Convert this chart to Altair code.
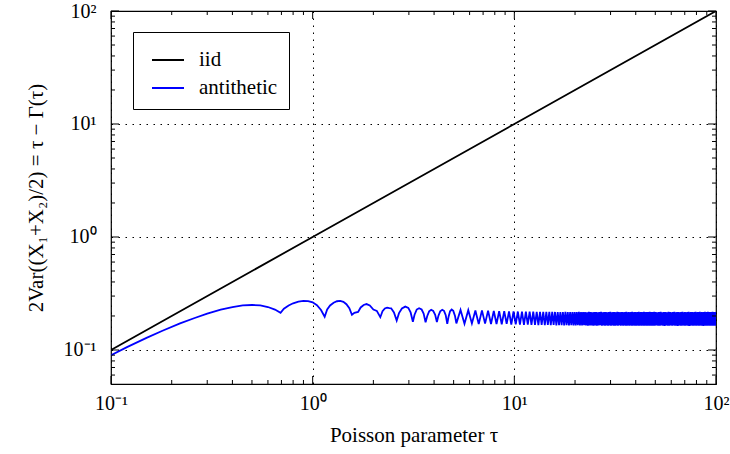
import altair as alt
import pandas as pd

W, H = 605, 373

# ---- data ----
iid_tau = [0.1, 1, 10, 100]
iid_val = [0.1, 1, 10, 100]

anti_tau_low = [0.1, 0.12, 0.15, 0.18, 0.22, 0.26, 0.3, 0.35, 0.4, 0.45, 0.5, 0.55, 0.6, 0.65, 0.693,
                0.72, 0.76, 0.8, 0.85, 0.9, 0.95, 1.0, 1.05, 1.1, 1.147,
                1.18, 1.22, 1.27, 1.32, 1.37, 1.42, 1.47, 1.52, 1.566,
                1.61, 1.68, 1.73, 1.79, 1.85, 1.92, 2.0, 2.08, 2.165,
                2.22, 2.28, 2.34, 2.4, 2.45, 2.53, 2.61,
                2.68, 2.77, 2.88, 2.98, 3.06, 3.14,
                3.2, 3.28, 3.37, 3.47, 3.55, 3.63,
                3.7, 3.78, 3.87, 3.96, 4.05, 4.13,
                4.2, 4.29, 4.39, 4.48, 4.57, 4.65,
                4.72, 4.8, 4.89, 4.98, 5.08]
anti_val_low = [0.090, 0.106, 0.128, 0.148, 0.172, 0.192, 0.210, 0.228, 0.240, 0.248, 0.250, 0.248, 0.240, 0.228, 0.213,
                0.232, 0.248, 0.259, 0.268, 0.272, 0.271, 0.264, 0.249, 0.226, 0.197,
                0.228, 0.248, 0.262, 0.270, 0.272, 0.267, 0.254, 0.234, 0.205,
                0.213, 0.217, 0.238, 0.250, 0.255, 0.248, 0.228, 0.222, 0.195,
                0.220, 0.233, 0.237, 0.235, 0.234, 0.215, 0.182,
                0.212, 0.233, 0.242, 0.236, 0.215, 0.178,
                0.205, 0.228, 0.234, 0.228, 0.210, 0.176,
                0.200, 0.220, 0.227, 0.222, 0.205, 0.177,
                0.200, 0.220, 0.227, 0.222, 0.203, 0.170,
                0.197, 0.220, 0.228, 0.222, 0.200]

dip_tau = [5.16, 5.66, 6.16, 6.66, 7.16, 7.66, 8.16, 8.66, 9.16, 9.66,
           10.16, 10.66, 11.16, 11.66, 12.16, 12.66, 13.16, 13.66, 14.16, 14.66,
           15.16, 15.66, 16.16, 16.66, 17.16, 17.66, 18.16, 18.66, 19.16, 19.66,
           20.16, 20.66, 21.16, 21.66, 22.16, 22.66, 23.16, 23.66, 24.16, 24.66,
           25.16, 25.66, 26.16, 26.66, 27.16, 27.66, 28.16, 28.66, 29.16, 29.66,
           30.16, 30.66, 31.16, 31.66, 32.16, 32.66, 33.16, 33.66, 34.16, 34.66,
           35.16, 35.66, 36.16, 36.66, 37.16, 37.66, 38.16, 38.66, 39.16, 39.66,
           40.16, 40.66, 41.16, 41.66, 42.16, 42.66, 43.16, 43.66, 44.16, 44.66,
           45.16, 45.66, 46.16, 46.66, 47.16, 47.66, 48.16, 48.66, 49.16, 49.66,
           50.66, 51.66, 52.66, 53.66, 54.66, 55.66, 56.66, 57.66, 58.66, 59.66,
           60.66, 61.66, 62.66, 63.66, 64.66, 65.66, 66.66, 67.66, 68.66, 69.66,
           70.66, 71.66, 72.66, 73.66, 74.66, 75.66, 76.66, 77.66, 78.66, 79.66,
           80.66, 81.66, 82.66, 83.66, 84.66, 85.66, 86.66, 87.66, 88.66, 89.66,
           90.66, 91.66, 92.66, 93.66, 94.66, 95.66, 96.66, 97.66, 98.66, 99.66]
dip_val = [0.172, 0.171, 0.172, 0.170, 0.171, 0.170, 0.170, 0.169, 0.170, 0.168,
           0.169, 0.168, 0.167, 0.168, 0.167, 0.167, 0.166, 0.167, 0.166, 0.167,
           0.166, 0.167, 0.165, 0.166, 0.166, 0.165, 0.166, 0.165, 0.166, 0.165,
           0.165, 0.166, 0.165, 0.165, 0.166, 0.165, 0.164, 0.165, 0.165, 0.164,
           0.165, 0.164, 0.165, 0.166, 0.164, 0.165, 0.164, 0.165, 0.164, 0.165,
           0.164, 0.165, 0.164, 0.164, 0.165, 0.164, 0.166, 0.164, 0.165, 0.164,
           0.165, 0.164, 0.164, 0.165, 0.164, 0.165, 0.164, 0.164, 0.165, 0.164,
           0.164, 0.165, 0.164, 0.164, 0.165, 0.164, 0.165, 0.164, 0.164, 0.165,
           0.164, 0.164, 0.165, 0.164, 0.165, 0.164, 0.164, 0.165, 0.164, 0.164,
           0.165, 0.164, 0.164, 0.165, 0.164, 0.163, 0.165, 0.164, 0.164, 0.165,
           0.164, 0.165, 0.164, 0.164, 0.163, 0.165, 0.164, 0.164, 0.165, 0.164,
           0.164, 0.165, 0.164, 0.163, 0.164, 0.165, 0.164, 0.164, 0.165, 0.164,
           0.165, 0.164, 0.164, 0.165, 0.164, 0.164, 0.163, 0.165, 0.164, 0.164,
           0.164, 0.165, 0.164, 0.164, 0.165, 0.164, 0.164, 0.165, 0.164, 0.164]

peak_tau = [5.41, 5.91, 6.41, 6.91, 7.41, 7.91, 8.41, 8.91, 9.41, 9.91,
            10.41, 10.91, 11.41, 11.91, 12.41, 12.91, 13.41, 13.91, 14.41, 14.91,
            15.41, 15.91, 16.41, 16.91, 17.41, 17.91, 18.41, 18.91, 19.41, 19.91,
            20.41, 20.91, 21.41, 21.91, 22.41, 22.91, 23.41, 23.91, 24.41, 24.91,
            25.41, 25.91, 26.41, 26.91, 27.41, 27.91, 28.41, 28.91, 29.41, 29.91,
            30.41, 30.91, 31.41, 31.91, 32.41, 32.91, 33.41, 33.91, 34.41, 34.91,
            35.41, 35.91, 36.41, 36.91, 37.41, 37.91, 38.41, 38.91, 39.41, 39.91,
            40.41, 40.91, 41.41, 41.91, 42.41, 42.91, 43.41, 43.91, 44.41, 44.91,
            45.41, 45.91, 46.41, 46.91, 47.41, 47.91, 48.41, 48.91, 49.41,
            50.16, 51.16, 52.16, 53.16, 54.16, 55.16, 56.16, 57.16, 58.16, 59.16,
            60.16, 61.16, 62.16, 63.16, 64.16, 65.16, 66.16, 67.16, 68.16, 69.16,
            70.16, 71.16, 72.16, 73.16, 74.16, 75.16, 76.16, 77.16, 78.16, 79.16,
            80.16, 81.16, 82.16, 83.16, 84.16, 85.16, 86.16, 87.16, 88.16, 89.16,
            90.16, 91.16, 92.16, 93.16, 94.16, 95.16, 96.16, 97.16, 98.16, 99.16]
peak_val = [0.226, 0.225, 0.224, 0.224, 0.223, 0.222, 0.221, 0.221, 0.220, 0.219,
            0.219, 0.219, 0.218, 0.218, 0.218, 0.217, 0.218, 0.217, 0.217, 0.217,
            0.218, 0.217, 0.217, 0.216, 0.217, 0.218, 0.217, 0.216, 0.217, 0.217,
            0.217, 0.218, 0.216, 0.217, 0.217, 0.216, 0.218, 0.217, 0.216, 0.217,
            0.217, 0.216, 0.217, 0.218, 0.216, 0.217, 0.217, 0.216, 0.217, 0.218,
            0.216, 0.217, 0.217, 0.216, 0.218, 0.217, 0.216, 0.217, 0.217, 0.216,
            0.217, 0.218, 0.216, 0.217, 0.216, 0.217, 0.218, 0.216, 0.217, 0.217,
            0.216, 0.217, 0.218, 0.216, 0.217, 0.217, 0.216, 0.218, 0.217, 0.216,
            0.217, 0.216, 0.217, 0.218, 0.216, 0.217, 0.216, 0.217, 0.218,
            0.217, 0.216, 0.217, 0.218, 0.216, 0.217, 0.217, 0.216, 0.218, 0.217,
            0.216, 0.217, 0.218, 0.216, 0.217, 0.217, 0.216, 0.217, 0.218, 0.216,
            0.217, 0.216, 0.217, 0.218, 0.216, 0.217, 0.217, 0.216, 0.217, 0.218,
            0.216, 0.217, 0.217, 0.218, 0.216, 0.217, 0.216, 0.217, 0.218, 0.216,
            0.217, 0.218, 0.216, 0.217, 0.217, 0.216, 0.218, 0.217, 0.216, 0.217]

end_tau = [100.0]
end_val = [0.19]

series_names = ["iid", "antithetic"]
series_colors = ["#000000", "#0000ff"]

x_domain = [0.1, 100]
y_domain = [0.05, 100]
x_major = [0.1, 1, 10, 100]
y_major = [0.1, 1, 10, 100]
major_labels = ["10⁻¹", "10⁰", "10¹", "10²"]
x_minor = [0.2, 0.3, 0.4, 0.5, 0.6, 0.7, 0.8, 0.9,
           2, 3, 4, 5, 6, 7, 8, 9,
           20, 30, 40, 50, 60, 70, 80, 90]
y_minor = [0.06, 0.07, 0.08, 0.09,
           0.2, 0.3, 0.4, 0.5, 0.6, 0.7, 0.8, 0.9,
           2, 3, 4, 5, 6, 7, 8, 9,
           20, 30, 40, 50, 60, 70, 80, 90]

x_title = "Poisson parameter τ"
y_title = "2Var((X₁+X₂)/2) = τ − Γ(τ)"

# ---- build tables ----
anti_tau = anti_tau_low + dip_tau + peak_tau + end_tau
anti_val = anti_val_low + dip_val + peak_val + end_val
df = pd.concat([
    pd.DataFrame({"tau": iid_tau, "val": iid_val, "series": "iid"}),
    pd.DataFrame({"tau": anti_tau, "val": anti_val, "series": "antithetic"}),
], ignore_index=True)


def label_expr(vals, labs):
    s = ""
    for v, l in zip(vals, labs):
        s += f"abs(datum.value - {v}) < {v / 100} ? '{l}' : "
    return s + "''"


FONT = "Liberation Serif"
xs = alt.Scale(type="log", domain=x_domain, nice=False)
ys = alt.Scale(type="log", domain=y_domain, nice=False)

common_axis = dict(grid=True, gridDash=[1.5, 5.5], gridColor="black", gridWidth=1, gridOpacity=1,
                   ticks=False, tickSize=0, domain=False, labelFont=FONT, labelFontSize=20,
                   labelColor="black", labelFlush=False, labelOverlap=False,
                   titleFont=FONT, titleFontSize=21, titleFontWeight="normal",
                   titleColor="black")
x_axis = alt.Axis(values=x_major, labelExpr=label_expr(x_major, major_labels), title=x_title,
                  labelPadding=9, titlePadding=11, **common_axis)
y_axis = alt.Axis(values=y_major, labelExpr=label_expr(y_major, major_labels), title=y_title,
                  labelPadding=15, titlePadding=17, **common_axis)

lines = alt.Chart(df).mark_line(strokeWidth=1.8, clip=True).encode(
    x=alt.X("tau:Q", scale=xs, axis=x_axis, title=x_title),
    y=alt.Y("val:Q", scale=ys, axis=y_axis, title=y_title),
    color=alt.Color("series:N", sort=series_names,
                    scale=alt.Scale(domain=series_names, range=series_colors),
                    legend=alt.Legend(title=None, orient="none", legendX=22, legendY=21,
                                      symbolType="stroke", symbolSize=1024, symbolStrokeWidth=2,
                                      labelFont=FONT, labelFontSize=21, labelColor="black",
                                      labelExpr="datum.label + '\u00a0\u00a0\u00a0'",
                                      labelOffset=14, rowPadding=1, padding=11, symbolOffset=7,
                                      strokeColor="black", fillColor="white", cornerRadius=0)),
)


def xticks(vals, length):
    d = pd.DataFrame({"tau": vals})
    base = alt.Chart(d).mark_rule(color="black", strokeWidth=1)
    xe = alt.X("tau:Q", scale=xs, axis=x_axis, title=x_title)
    bottom = base.encode(x=xe, y=alt.value(H), y2=alt.value(H - length))
    top = base.encode(x=xe, y=alt.value(0), y2=alt.value(length))
    return [bottom, top]


def yticks(vals, length):
    d = pd.DataFrame({"val": vals})
    base = alt.Chart(d).mark_rule(color="black", strokeWidth=1)
    ye = alt.Y("val:Q", scale=ys, axis=y_axis, title=y_title)
    left = base.encode(y=ye, x=alt.value(0), x2=alt.value(length))
    right = base.encode(y=ye, x=alt.value(W), x2=alt.value(W - length))
    return [left, right]


chart = alt.layer(
    lines,
    *xticks(x_major, 8), *xticks(x_minor, 4),
    *yticks(y_major, 8), *yticks(y_minor, 4),
).properties(
    width=W, height=H,
    autosize=alt.AutoSizeParams(type="none"),
    padding={"left": 111, "top": 11, "right": 14, "bottom": 70},
    background="white",
).configure_view(stroke="black", strokeWidth=1.2)

chart.save("out.html", embed_options={"renderer": "svg", "actions": False})
